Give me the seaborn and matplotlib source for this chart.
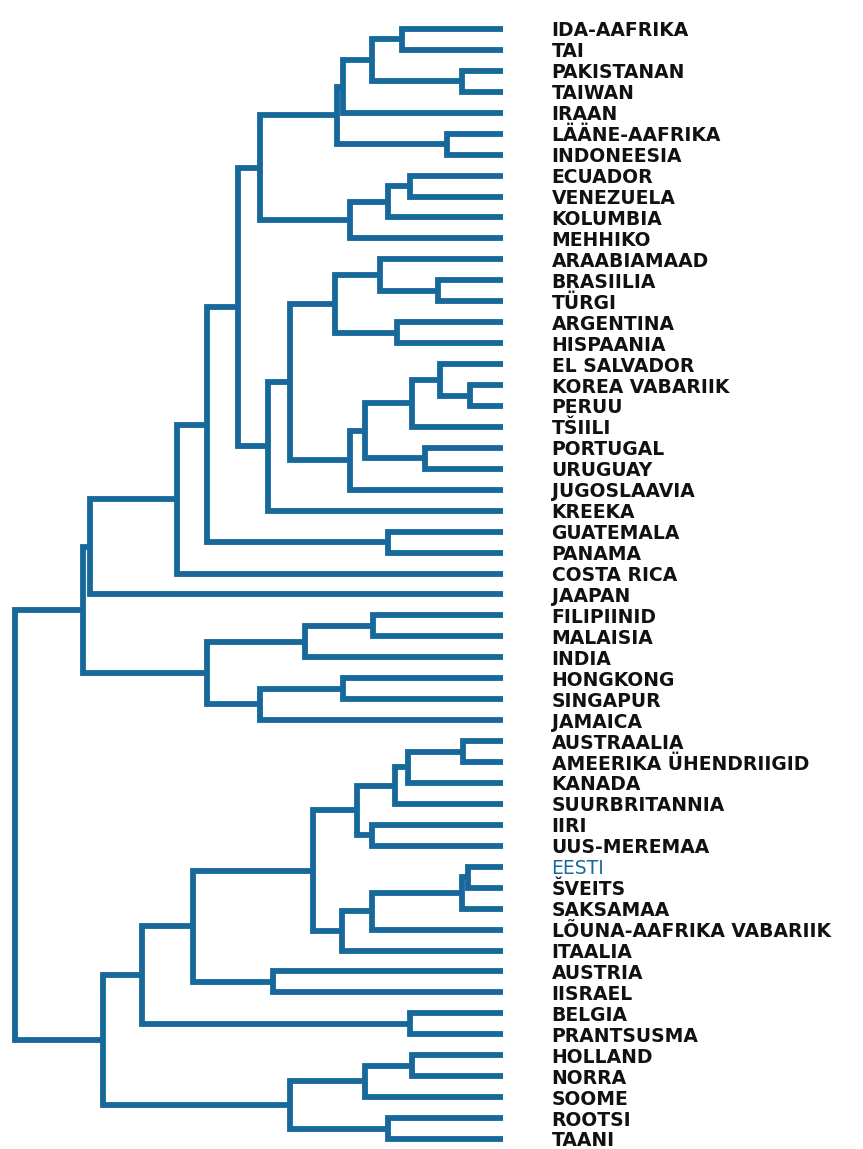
import numpy as np
import pandas as pd
import matplotlib
matplotlib.use("Agg")
import matplotlib.pyplot as plt
import seaborn as sns

# Leaf labels, top to bottom
labels = [
    "IDA-AAFRIKA", "TAI", "PAKISTANAN", "TAIWAN", "IRAAN", "LÄÄNE-AAFRIKA",
    "INDONEESIA", "ECUADOR", "VENEZUELA", "KOLUMBIA", "MEHHIKO",
    "ARAABIAMAAD", "BRASIILIA", "TÜRGI", "ARGENTINA", "HISPAANIA",
    "EL SALVADOR", "KOREA VABARIIK", "PERUU", "TŠIILI", "PORTUGAL",
    "URUGUAY", "JUGOSLAAVIA", "KREEKA", "GUATEMALA", "PANAMA",
    "COSTA RICA", "JAAPAN", "FILIPIINID", "MALAISIA", "INDIA", "HONGKONG",
    "SINGAPUR", "JAMAICA", "AUSTRAALIA", "AMEERIKA ÜHENDRIIGID", "KANADA",
    "SUURBRITANNIA", "IIRI", "UUS-MEREMAA", "EESTI", "ŠVEITS", "SAKSAMAA",
    "LÕUNA-AAFRIKA VABARIIK", "ITAALIA", "AUSTRIA", "IISRAEL", "BELGIA",
    "PRANTSUSMA", "HOLLAND", "NORRA", "SOOME", "ROOTSI", "TAANI",
]

# Agglomeration steps: new node n_leaves + k joins merge_left[k] and merge_right[k]
merge_left = [0, 2, 54, 56, 5, 57, 7, 60, 61, 59,
              12, 11, 14, 65, 17, 16, 69, 20, 70, 72,
              67, 74, 63, 24, 76, 78, 79, 28, 81, 31,
              83, 82, 80, 34, 87, 88, 38, 89, 40, 92,
              93, 94, 91, 45, 96, 47, 98, 49, 101, 52,
              102, 100, 86]
merge_right = [1, 3, 55, 4, 6, 58, 8, 9, 10, 62,
               13, 64, 15, 66, 18, 68, 19, 21, 71, 22,
               73, 23, 75, 25, 77, 26, 27, 29, 30, 32,
               33, 84, 85, 35, 36, 37, 39, 90, 41, 42,
               43, 44, 95, 46, 97, 48, 99, 50, 51, 53,
               103, 104, 105]
# Rescaled distance at which each pair is combined (0-25)
merge_height = [5.17, 2.10, 6.71, 8.20, 2.87, 8.50, 4.76, 5.89, 7.84, 12.45,
                3.33, 6.30, 5.43, 8.61, 1.69, 3.23, 4.66, 4.00, 7.07, 7.84,
                10.91, 12.04, 13.58, 5.89, 15.16, 16.70, 21.16, 6.66, 10.14, 8.20,
                12.45, 15.16, 21.52, 2.05, 4.87, 5.53, 6.71, 7.48, 1.79, 2.10,
                6.71, 8.25, 9.73, 11.78, 15.88, 4.76, 18.49, 4.66, 7.07, 5.89,
                10.91, 20.49, 25.00]

highlight = "EESTI"
line_color = "#17699c"

# Dendrogram geometry: leaves sit at integer rows, inner nodes at the mean of their children
n = len(labels)
pos = {i: float(i) for i in range(n)}
hgt = {i: 0.0 for i in range(n)}
rows = []
for k, (a, b, h) in enumerate(zip(merge_left, merge_right, merge_height)):
    node = n + k
    xs = [hgt[a], h, h, hgt[b]]
    ys = [pos[a], pos[a], pos[b], pos[b]]
    for order, (x, y) in enumerate(zip(xs, ys)):
        rows.append({"node": node, "order": order, "dist": x, "row": y})
    pos[node] = (pos[a] + pos[b]) / 2.0
    hgt[node] = h
segments = pd.DataFrame(rows)

sns.set_theme(style="white")
plt.rcParams["font.family"] = ["DejaVu Sans"]

W, H = 863, 1149
fig = plt.figure(figsize=(W / 100, H / 100), dpi=100)
fig.patch.set_facecolor("white")
left_px, right_px = 15, 503
top_px, bottom_px = 29, 1139
ax = fig.add_axes([left_px / W, 1 - bottom_px / H,
                   (right_px - left_px) / W, (bottom_px - top_px) / H])

sns.lineplot(data=segments, x="dist", y="row", units="node", estimator=None,
             sort=False, color=line_color, linewidth=4.2, legend=False, ax=ax)
for ln in ax.lines:
    ln.set_solid_joinstyle("miter")
    ln.set_solid_capstyle("butt")
    ln.set_clip_on(False)

ax.set_xlim(25, 0)
ax.set_ylim(n - 1, 0)
ax.set_xlabel("")
ax.set_ylabel("")
ax.set_xticks([])
ax.yaxis.tick_right()
ax.set_yticks(range(n))
ax.set_yticklabels(labels, fontsize=13.5, fontweight="bold")
ax.tick_params(axis="y", length=0, pad=35)
for t in ax.get_yticklabels():
    t.set_color(line_color if t.get_text() == highlight else "#111111")
    if t.get_text() == highlight:
        t.set_fontweight("normal")
for s in ax.spines.values():
    s.set_visible(False)
ax.set_facecolor("white")

fig.savefig("out.png", dpi=100, facecolor="white")
